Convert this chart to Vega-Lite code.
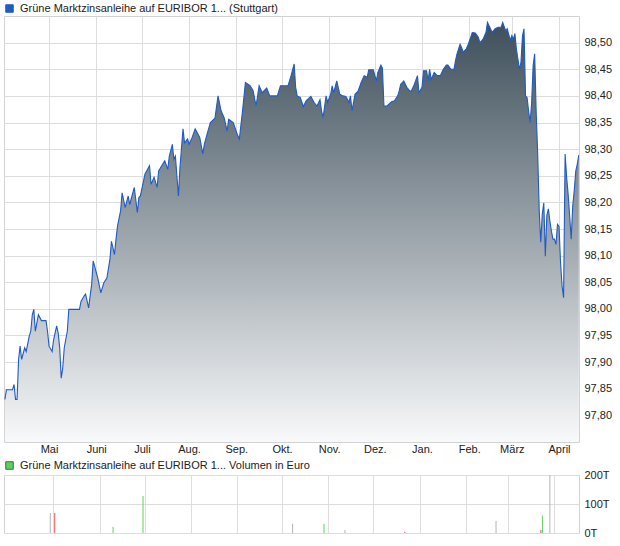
{
  "$schema": "https://vega.github.io/schema/vega-lite/v6.json",
  "padding": {"left": 3, "top": 2, "right": 0, "bottom": 0},
  "background": "white",
  "config": {
    "font": "Liberation Sans",
    "view": {"stroke": "#d2d2d2"},
    "axis": {"labelFont": "Liberation Sans", "labelFontSize": 11, "labelColor": "#222222", "gridColor": "#dddddd", "domain": false, "ticks": false, "title": null},
    "legend": {"labelFont": "Liberation Sans", "labelFontSize": 11, "labelColor": "#222222", "labelLimit": 500, "title": null, "padding": 0}
  },
  "datasets": {
    "price": [
      {"d":"2024-04-02","v":97.830},{"d":"2024-04-03","v":97.848},{"d":"2024-04-05","v":97.848},{"d":"2024-04-07","v":97.848},{"d":"2024-04-08","v":97.858},{"d":"2024-04-09","v":97.830},{"d":"2024-04-10","v":97.830},{"d":"2024-04-11","v":97.905},{"d":"2024-04-12","v":97.930},{"d":"2024-04-13","v":97.905},{"d":"2024-04-15","v":97.927},{"d":"2024-04-16","v":97.920},{"d":"2024-04-18","v":97.949},{"d":"2024-04-19","v":97.958},{"d":"2024-04-20","v":97.989},{"d":"2024-04-21","v":97.999},{"d":"2024-04-22","v":97.958},{"d":"2024-04-24","v":97.989},{"d":"2024-04-26","v":97.978},{"d":"2024-04-29","v":97.978},{"d":"2024-04-30","v":97.958},
      {"d":"2024-05-01","v":97.930},{"d":"2024-05-03","v":97.920},{"d":"2024-05-04","v":97.942},{"d":"2024-05-06","v":97.968},{"d":"2024-05-07","v":97.955},{"d":"2024-05-08","v":97.927},{"d":"2024-05-09","v":97.870},{"d":"2024-05-10","v":97.889},{"d":"2024-05-11","v":97.927},{"d":"2024-05-13","v":97.958},{"d":"2024-05-14","v":97.999},{"d":"2024-05-21","v":97.999},{"d":"2024-05-22","v":98.014},{"d":"2024-05-24","v":98.024},{"d":"2024-05-25","v":98.028},{"d":"2024-05-27","v":98.002},{"d":"2024-05-29","v":98.046},{"d":"2024-05-30","v":98.090},
      {"d":"2024-06-02","v":98.058},{"d":"2024-06-04","v":98.030},{"d":"2024-06-06","v":98.049},{"d":"2024-06-08","v":98.058},{"d":"2024-06-10","v":98.093},{"d":"2024-06-11","v":98.127},{"d":"2024-06-13","v":98.102},{"d":"2024-06-14","v":98.131},{"d":"2024-06-15","v":98.156},{"d":"2024-06-17","v":98.184},{"d":"2024-06-18","v":98.218},{"d":"2024-06-20","v":98.190},{"d":"2024-06-22","v":98.212},{"d":"2024-06-23","v":98.196},{"d":"2024-06-26","v":98.228},{"d":"2024-06-28","v":98.181},{"d":"2024-06-29","v":98.209},{"d":"2024-06-30","v":98.212},
      {"d":"2024-07-03","v":98.253},{"d":"2024-07-06","v":98.269},{"d":"2024-07-07","v":98.234},{"d":"2024-07-09","v":98.247},{"d":"2024-07-11","v":98.228},{"d":"2024-07-12","v":98.259},{"d":"2024-07-16","v":98.278},{"d":"2024-07-18","v":98.262},{"d":"2024-07-19","v":98.287},{"d":"2024-07-21","v":98.309},{"d":"2024-07-22","v":98.281},{"d":"2024-07-23","v":98.287},{"d":"2024-07-25","v":98.212},{"d":"2024-07-26","v":98.265},{"d":"2024-07-28","v":98.338},{"d":"2024-07-29","v":98.312},{"d":"2024-07-31","v":98.319},
      {"d":"2024-08-01","v":98.309},{"d":"2024-08-03","v":98.322},{"d":"2024-08-05","v":98.338},{"d":"2024-08-08","v":98.322},{"d":"2024-08-10","v":98.291},{"d":"2024-08-11","v":98.309},{"d":"2024-08-13","v":98.330},{"d":"2024-08-15","v":98.350},{"d":"2024-08-18","v":98.358},{"d":"2024-08-20","v":98.400},{"d":"2024-08-22","v":98.372},{"d":"2024-08-24","v":98.359},{"d":"2024-08-26","v":98.334},{"d":"2024-08-27","v":98.356},{"d":"2024-08-30","v":98.350},
      {"d":"2024-09-02","v":98.325},{"d":"2024-09-03","v":98.319},{"d":"2024-09-05","v":98.369},{"d":"2024-09-07","v":98.425},{"d":"2024-09-10","v":98.419},{"d":"2024-09-12","v":98.410},{"d":"2024-09-14","v":98.381},{"d":"2024-09-16","v":98.419},{"d":"2024-09-18","v":98.406},{"d":"2024-09-21","v":98.415},{"d":"2024-09-23","v":98.400},{"d":"2024-09-28","v":98.400},{"d":"2024-09-30","v":98.419},
      {"d":"2024-10-05","v":98.419},{"d":"2024-10-07","v":98.438},{"d":"2024-10-09","v":98.460},{"d":"2024-10-10","v":98.416},{"d":"2024-10-11","v":98.400},{"d":"2024-10-13","v":98.397},{"d":"2024-10-15","v":98.380},{"d":"2024-10-17","v":98.391},{"d":"2024-10-20","v":98.399},{"d":"2024-10-22","v":98.388},{"d":"2024-10-24","v":98.381},{"d":"2024-10-26","v":98.393},{"d":"2024-10-27","v":98.372},{"d":"2024-10-28","v":98.359},{"d":"2024-10-30","v":98.400},{"d":"2024-10-31","v":98.388},
      {"d":"2024-11-02","v":98.403},{"d":"2024-11-03","v":98.419},{"d":"2024-11-04","v":98.406},{"d":"2024-11-06","v":98.428},{"d":"2024-11-08","v":98.403},{"d":"2024-11-10","v":98.400},{"d":"2024-11-12","v":98.399},{"d":"2024-11-14","v":98.388},{"d":"2024-11-15","v":98.400},{"d":"2024-11-16","v":98.372},{"d":"2024-11-18","v":98.403},{"d":"2024-11-20","v":98.409},{"d":"2024-11-22","v":98.425},{"d":"2024-11-24","v":98.438},{"d":"2024-11-26","v":98.435},{"d":"2024-11-27","v":98.449},{"d":"2024-11-30","v":98.449},
      {"d":"2024-12-02","v":98.428},{"d":"2024-12-03","v":98.444},{"d":"2024-12-05","v":98.458},{"d":"2024-12-06","v":98.452},{"d":"2024-12-07","v":98.381},{"d":"2024-12-09","v":98.381},{"d":"2024-12-12","v":98.389},{"d":"2024-12-14","v":98.391},{"d":"2024-12-16","v":98.400},{"d":"2024-12-17","v":98.409},{"d":"2024-12-18","v":98.422},{"d":"2024-12-20","v":98.428},{"d":"2024-12-22","v":98.416},{"d":"2024-12-24","v":98.409},{"d":"2024-12-25","v":98.409},{"d":"2024-12-27","v":98.422},{"d":"2024-12-29","v":98.438},{"d":"2024-12-30","v":98.406},
      {"d":"2025-01-01","v":98.416},{"d":"2025-01-02","v":98.447},{"d":"2025-01-04","v":98.447},{"d":"2025-01-05","v":98.428},{"d":"2025-01-06","v":98.450},{"d":"2025-01-07","v":98.431},{"d":"2025-01-09","v":98.444},{"d":"2025-01-11","v":98.438},{"d":"2025-01-13","v":98.438},{"d":"2025-01-15","v":98.450},{"d":"2025-01-17","v":98.458},{"d":"2025-01-18","v":98.458},{"d":"2025-01-20","v":98.450},{"d":"2025-01-22","v":98.450},{"d":"2025-01-23","v":98.466},{"d":"2025-01-24","v":98.479},{"d":"2025-01-26","v":98.497},{"d":"2025-01-27","v":98.491},{"d":"2025-01-28","v":98.482},{"d":"2025-01-30","v":98.488},{"d":"2025-01-31","v":98.494},
      {"d":"2025-02-02","v":98.510},{"d":"2025-02-03","v":98.519},{"d":"2025-02-05","v":98.518},{"d":"2025-02-07","v":98.510},{"d":"2025-02-08","v":98.500},{"d":"2025-02-10","v":98.506},{"d":"2025-02-12","v":98.519},{"d":"2025-02-13","v":98.538},{"d":"2025-02-15","v":98.526},{"d":"2025-02-16","v":98.519},{"d":"2025-02-18","v":98.526},{"d":"2025-02-20","v":98.529},{"d":"2025-02-22","v":98.529},{"d":"2025-02-23","v":98.538},{"d":"2025-02-25","v":98.522},{"d":"2025-02-26","v":98.526},{"d":"2025-02-28","v":98.504},
      {"d":"2025-03-01","v":98.513},{"d":"2025-03-02","v":98.506},{"d":"2025-03-03","v":98.517},{"d":"2025-03-04","v":98.488},{"d":"2025-03-05","v":98.469},{"d":"2025-03-06","v":98.450},{"d":"2025-03-07","v":98.463},{"d":"2025-03-08","v":98.513},{"d":"2025-03-09","v":98.526},{"d":"2025-03-10","v":98.400},{"d":"2025-03-11","v":98.397},{"d":"2025-03-12","v":98.372},{"d":"2025-03-13","v":98.350},{"d":"2025-03-14","v":98.385},{"d":"2025-03-15","v":98.457},{"d":"2025-03-16","v":98.479},{"d":"2025-03-17","v":98.369},{"d":"2025-03-18","v":98.291},{"d":"2025-03-19","v":98.184},{"d":"2025-03-20","v":98.125},{"d":"2025-03-21","v":98.178},{"d":"2025-03-22","v":98.199},{"d":"2025-03-23","v":98.099},{"d":"2025-03-24","v":98.175},{"d":"2025-03-25","v":98.188},{"d":"2025-03-26","v":98.165},{"d":"2025-03-27","v":98.146},{"d":"2025-03-28","v":98.131},{"d":"2025-03-29","v":98.131},{"d":"2025-03-30","v":98.121},{"d":"2025-03-31","v":98.159},
      {"d":"2025-04-01","v":98.155},{"d":"2025-04-02","v":98.087},{"d":"2025-04-03","v":98.043},{"d":"2025-04-04","v":98.021},{"d":"2025-04-05","v":98.291},{"d":"2025-04-06","v":98.247},{"d":"2025-04-07","v":98.215},{"d":"2025-04-08","v":98.174},{"d":"2025-04-09","v":98.131},{"d":"2025-04-10","v":98.193},{"d":"2025-04-11","v":98.222},{"d":"2025-04-12","v":98.259},{"d":"2025-04-13","v":98.272},{"d":"2025-04-14","v":98.289}
    ],
    "vol": [
      {"d":"2024-04-29","vol":69000,"dir":"flat"},
      {"d":"2024-05-02","vol":69000,"dir":"down"},
      {"d":"2024-06-10","vol":21000,"dir":"up"},
      {"d":"2024-06-30","vol":128000,"dir":"up"},
      {"d":"2024-10-08","vol":32000,"dir":"flat"},
      {"d":"2024-10-29","vol":32000,"dir":"up"},
      {"d":"2024-11-12","vol":10000,"dir":"flat"},
      {"d":"2024-12-22","vol":4500,"dir":"down"},
      {"d":"2025-02-21","vol":41000,"dir":"flat"},
      {"d":"2025-03-23","vol":10000,"dir":"down"},
      {"d":"2025-03-24","vol":60000,"dir":"up"},
      {"d":"2025-03-29","vol":230000,"dir":"flat"}
    ]
  },
  "vconcat": [
    {
      "width": 575,
      "height": 426,
      "data": {"name": "price"},
      "encoding": {
        "x": {
          "field": "d", "type": "temporal",
          "scale": {"domain": [{"year": 2024, "month": 4, "date": 1, "hours": 10, "utc": true}, {"year": 2025, "month": 4, "date": 14, "hours": 3, "utc": true}]},
          "axis": {
            "orient": "bottom", "grid": true, "labelPadding": 1, "labelFlush": false, "labelOverlap": false,
            "values": [
              {"year": 2024, "month": 5, "date": 1, "utc": true}, {"year": 2024, "month": 6, "date": 1, "utc": true},
              {"year": 2024, "month": 7, "date": 1, "utc": true}, {"year": 2024, "month": 8, "date": 1, "utc": true},
              {"year": 2024, "month": 9, "date": 1, "utc": true}, {"year": 2024, "month": 10, "date": 1, "utc": true},
              {"year": 2024, "month": 11, "date": 1, "utc": true}, {"year": 2024, "month": 12, "date": 1, "utc": true},
              {"year": 2025, "month": 1, "date": 1, "utc": true}, {"year": 2025, "month": 2, "date": 1, "utc": true},
              {"year": 2025, "month": 3, "date": 1, "utc": true}, {"year": 2025, "month": 4, "date": 1, "utc": true}
            ],
            "labelExpr": "['Jan.','Feb.','März','April','Mai','Juni','Juli','Aug.','Sep.','Okt.','Nov.','Dez.'][utcmonth(datum.value)]"
          }
        },
        "y": {
          "field": "v", "type": "quantitative",
          "scale": {"domain": [97.75, 98.55], "zero": false, "nice": false},
          "axis": {
            "orient": "right", "grid": true, "labelPadding": 5,
            "values": [97.8, 97.85, 97.9, 97.95, 98.0, 98.05, 98.1, 98.15, 98.2, 98.25, 98.3, 98.35, 98.4, 98.45, 98.5],
            "labelExpr": "replace(format(datum.value, '.2f'), '.', ',')"
          }
        }
      },
      "layer": [
        {
          "mark": {
            "type": "area", "interpolate": "linear", "clip": true,
            "fill": {"gradient": "linear", "x1": 0, "y1": 0, "x2": 0, "y2": 1,
              "stops": [{"offset": 0, "color": "#3e4f5b"}, {"offset": 1, "color": "#f8f9fa"}]}
          },
          "encoding": {"y2": {"datum": 97.75}}
        },
        {
          "mark": {"type": "line", "interpolate": "linear", "strokeWidth": 1.1, "clip": true},
          "encoding": {
            "color": {
              "datum": "Grüne Marktzinsanleihe auf EURIBOR 1... (Stuttgart)",
              "scale": {"range": ["#1f5bc6"]},
              "legend": {"orient": "none", "legendX": 0, "legendY": -13, "symbolType": "square", "symbolSize": 56, "symbolFillColor": "#1f5bc6", "symbolStrokeWidth": 1, "labelOffset": 5}
            }
          }
        }
      ]
    },
    {
      "width": 575,
      "height": 58,
      "data": {"name": "vol"},
      "mark": {"type": "bar", "width": 1, "clip": true},
      "encoding": {
        "x": {
          "field": "d", "type": "temporal",
          "scale": {"domain": [{"year": 2024, "month": 4, "date": 1, "hours": 10, "utc": true}, {"year": 2025, "month": 4, "date": 14, "hours": 3, "utc": true}]},
          "axis": {
            "orient": "bottom", "grid": true, "labels": false,
            "values": [
              {"year": 2024, "month": 5, "date": 1, "utc": true}, {"year": 2024, "month": 6, "date": 1, "utc": true},
              {"year": 2024, "month": 7, "date": 1, "utc": true}, {"year": 2024, "month": 8, "date": 1, "utc": true},
              {"year": 2024, "month": 9, "date": 1, "utc": true}, {"year": 2024, "month": 10, "date": 1, "utc": true},
              {"year": 2024, "month": 11, "date": 1, "utc": true}, {"year": 2024, "month": 12, "date": 1, "utc": true},
              {"year": 2025, "month": 1, "date": 1, "utc": true}, {"year": 2025, "month": 2, "date": 1, "utc": true},
              {"year": 2025, "month": 3, "date": 1, "utc": true}, {"year": 2025, "month": 4, "date": 1, "utc": true}
            ]
          }
        },
        "y": {
          "field": "vol", "type": "quantitative",
          "scale": {"domain": [0, 200000], "nice": false},
          "axis": {"orient": "right", "grid": true, "labelPadding": 5, "values": [0, 100000, 200000], "labelExpr": "(datum.value / 1000) + 'T'"}
        },
        "color": {
          "field": "dir", "type": "nominal",
          "scale": {"domain": ["up", "down", "flat"], "range": ["#5fcf5f", "#e05555", "#b4b4b4"]},
          "legend": {"orient": "none", "legendX": 0, "legendY": -15, "values": ["up"], "symbolType": "square", "symbolSize": 56, "symbolStrokeColor": "#2a7a2a", "symbolStrokeWidth": 1, "labelOffset": 5,
            "labelExpr": "'Grüne Marktzinsanleihe auf EURIBOR 1... Volumen in Euro'"}
        }
      }
    }
  ],
  "spacing": 4,
  "resolve": {"scale": {"color": "independent"}, "legend": {"color": "independent"}}
}
